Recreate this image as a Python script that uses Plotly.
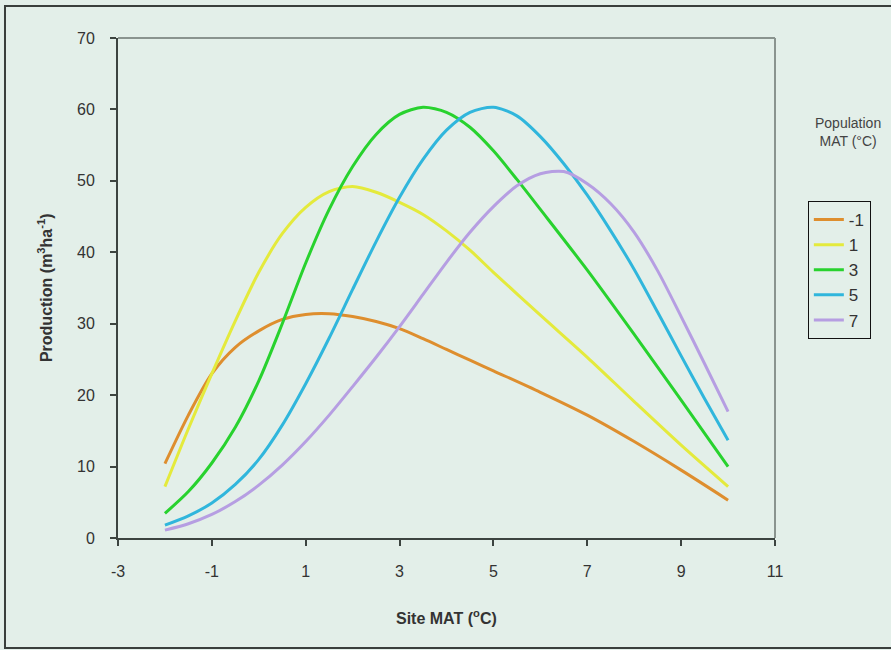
import plotly.graph_objects as go

# Population MAT (°C) series
series_names = ["-1", "1", "3", "5", "7"]
colors = ["#de8e2e", "#e4ea3c", "#28d22e", "#30b6dc", "#b69ee2"]

x_orange = [-2, -1.5, -1, -0.5, 0, 0.5, 1, 1.5, 2, 2.5, 3, 3.5, 4, 4.5, 5, 6, 7, 8, 9, 10]
y_orange = [10.4, 17.2, 23.0, 26.7, 29.0, 30.6, 31.3, 31.4, 31.0, 30.3, 29.3, 27.9, 26.4, 24.9, 23.4, 20.4, 17.2, 13.5, 9.5, 5.3]

x_yellow = [-2, -1.5, -1, -0.5, 0, 0.5, 1, 1.5, 2, 2.5, 3, 3.5, 4, 4.5, 5, 6, 7, 8, 9, 10]
y_yellow = [7.2, 15.3, 23.0, 30.4, 37.2, 42.6, 46.3, 48.5, 49.2, 48.4, 47.0, 45.3, 43.0, 40.3, 37.2, 31.2, 25.3, 19.1, 13.0, 7.2]

x_green = [-2, -1.5, -1, -0.5, 0, 0.5, 1, 1.5, 2, 2.5, 3, 3.5, 4, 4.5, 5, 5.5, 6, 7, 8, 9, 10]
y_green = [3.45, 6.5, 10.5, 15.5, 22.0, 30.0, 38.5, 46.0, 52.0, 56.5, 59.3, 60.3, 59.6, 57.5, 54.2, 50.2, 46.0, 37.5, 28.5, 19.3, 10.0]

x_blue = [-2, -1.5, -1, -0.5, 0, 0.5, 1, 1.5, 2, 2.5, 3, 3.5, 4, 4.5, 5, 5.5, 6, 6.5, 7, 7.5, 8, 8.5, 9, 9.5, 10]
y_blue = [1.8, 3.1, 4.9, 7.5, 11.0, 15.8, 21.6, 28.0, 34.8, 41.5, 47.7, 53.0, 57.1, 59.6, 60.3, 59.1, 56.2, 52.4, 48.0, 43.0, 37.6, 31.6, 25.5, 19.5, 13.7]

x_purple = [-2, -1.5, -1, -0.5, 0, 0.5, 1, 1.5, 2, 2.5, 3, 3.5, 4, 4.5, 5, 5.5, 6, 6.5, 7, 7.5, 8, 8.5, 9, 9.5, 10]
y_purple = [1.1, 2.0, 3.3, 5.1, 7.4, 10.2, 13.5, 17.2, 21.2, 25.3, 29.6, 34.1, 38.6, 42.8, 46.4, 49.3, 51.0, 51.3, 49.6, 46.8, 42.8, 37.4, 31.0, 24.4, 17.7]

xs = [x_orange, x_yellow, x_green, x_blue, x_purple]
ys = [y_orange, y_yellow, y_green, y_blue, y_purple]

x_ticks = [-3, -1, 1, 3, 5, 7, 9, 11]
y_ticks = [0, 10, 20, 30, 40, 50, 60, 70]

BG = "#e3efe9"
FONT = "Liberation Sans, Arial, sans-serif"

fig = go.Figure()
for name, c, xv, yv in zip(series_names, colors, xs, ys):
    fig.add_trace(go.Scatter(x=xv, y=yv, mode="lines", name=name,
                             line=dict(color=c, width=3, shape="spline", smoothing=0.8)))

fig.update_layout(
    width=891, height=650,
    margin=dict(l=118, r=116, t=38, b=112),
    paper_bgcolor=BG, plot_bgcolor=BG,
    font=dict(family=FONT, color="#333333"),
    showlegend=True,
    legend=dict(x=1.05, y=0.674, xanchor="left", yanchor="top",
                bgcolor=BG, bordercolor="#111111", borderwidth=1,
                font=dict(size=17, color="#333333", family=FONT),
                itemwidth=30, tracegroupgap=0),
    xaxis=dict(range=[-3, 11], tickvals=x_ticks, ticktext=[str(v) for v in x_ticks],
               showgrid=False, zeroline=False, showline=True, linecolor="#3c4440", linewidth=2,
               ticks="outside", ticklen=6, tickwidth=2, tickcolor="#3c4440",
               tickfont=dict(size=16, color="#333333"), ticklabelstandoff=12),
    yaxis=dict(range=[0, 70], tickvals=y_ticks, ticktext=[str(v) for v in y_ticks],
               showgrid=False, zeroline=False, showline=True, linecolor="#3c4440", linewidth=2,
               ticks="outside", ticklen=6, tickwidth=2, tickcolor="#3c4440",
               tickfont=dict(size=16, color="#333333"), ticklabelstandoff=12),
    shapes=[
        dict(type="line", xref="paper", yref="paper", x0=0, x1=1, y0=1, y1=1,
             line=dict(color="#8a948f", width=2)),
        dict(type="line", xref="paper", yref="paper", x0=1, x1=1, y0=0, y1=1,
             line=dict(color="#8a948f", width=2)),
        dict(type="rect", xref="paper", yref="paper", x0=-0.172, x1=1.25, y0=-0.22, y1=1.064,
             line=dict(color="#3a3f3c", width=2), fillcolor="rgba(0,0,0,0)", layer="below"),
    ],
    annotations=[
        dict(text="<b>Site MAT (<sup>o</sup>C)</b>", xref="paper", yref="paper",
             x=0.5, y=-0.158, xanchor="center", yanchor="middle", showarrow=False,
             font=dict(size=16, color="#333333", family=FONT)),
        dict(text="<b>Production (m<sup>3</sup>ha<sup>-1</sup>)</b>", xref="paper", yref="paper",
             x=-0.111, y=0.5, xanchor="center", yanchor="middle", showarrow=False, textangle=-90,
             font=dict(size=16, color="#333333", family=FONT)),
        dict(text="Population<br>MAT (°C)", xref="paper", yref="paper",
             x=1.111, y=0.812, xanchor="center", yanchor="middle", showarrow=False,
             font=dict(size=14, color="#444444", family=FONT)),
    ],
)

fig.write_html("out.html")
